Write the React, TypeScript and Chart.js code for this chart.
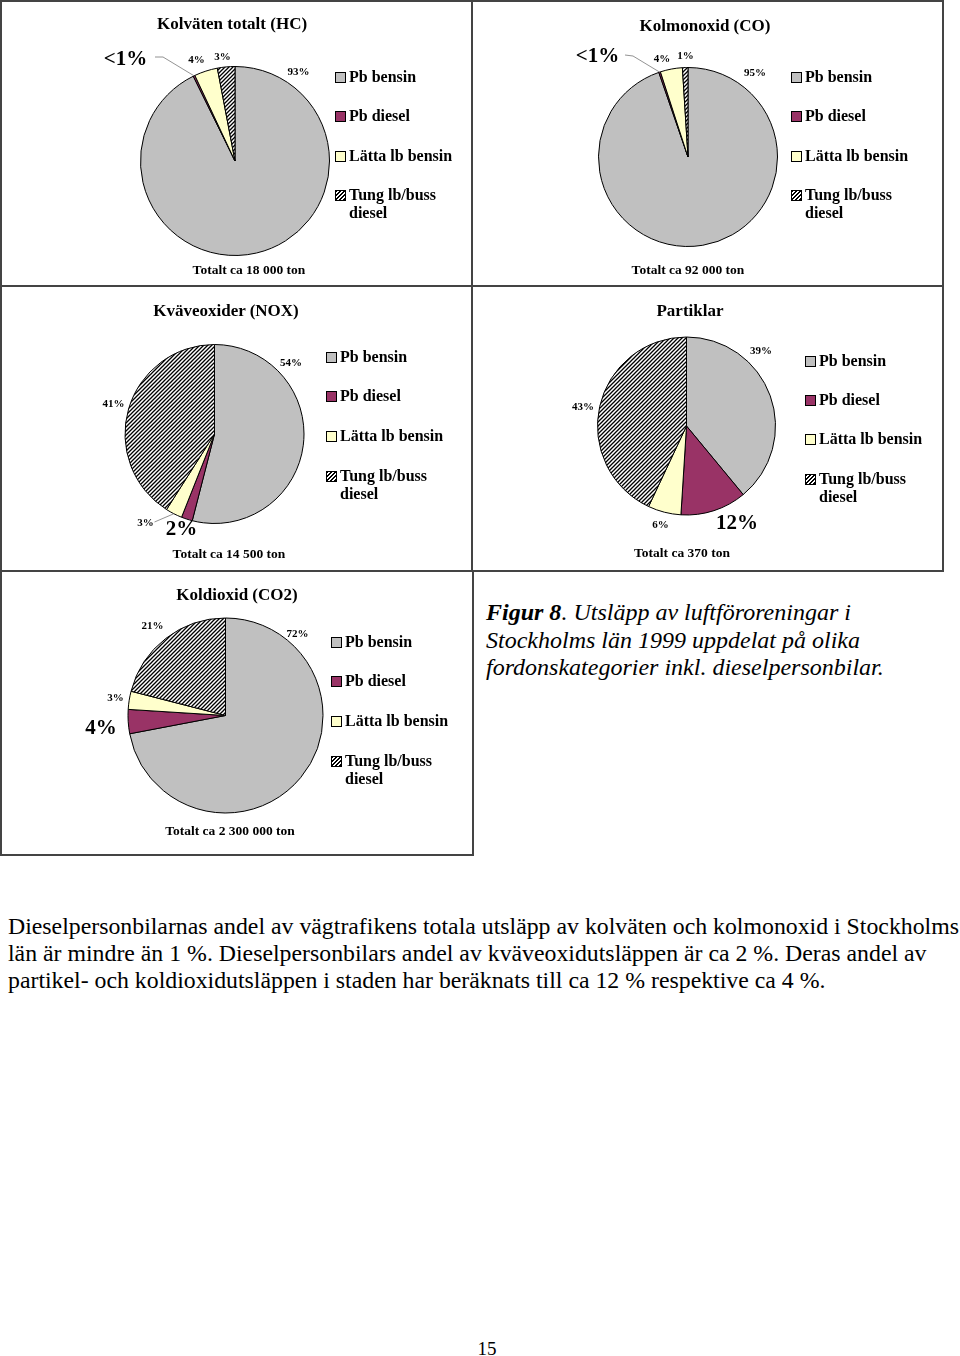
import React, { useEffect, useRef } from "react";
import { Chart, registerables } from "chart.js";
Chart.register(...registerables);

// ---------- data ----------
const categories = ["Pb bensin", "Pb diesel", "Lätta lb bensin", "Tung lb/buss diesel"];
const legendLines = [["Pb bensin"], ["Pb diesel"], ["Lätta lb bensin"], ["Tung lb/buss", "diesel"]];

const hcValues = [93, 0.3, 4, 3];
const coValues = [95, 0.3, 4, 1];
const noxValues = [54, 2, 3, 41];
const partValues = [39, 12, 6, 43];
const co2Values = [72, 4, 3, 21];

const chartTitles = ["Kolväten totalt (HC)", "Kolmonoxid (CO)", "Kväveoxider (NOX)", "Partiklar", "Koldioxid (CO2)"];
const totals = ["Totalt ca 18 000 ton", "Totalt ca 92 000 ton", "Totalt ca 14 500 ton", "Totalt ca 370 ton", "Totalt ca 2 300 000 ton"];

const captionLines = [
  "Utsläpp av luftföroreningar i",
  "Stockholms län 1999 uppdelat på olika",
  "fordonskategorier inkl. dieselpersonbilar.",
];
const bodyLines = [
  "Dieselpersonbilarnas andel av vägtrafikens totala utsläpp av kolväten och kolmonoxid i Stockholms",
  "län är mindre än 1 %. Dieselpersonbilars andel av kväveoxidutsläppen är ca 2 %. Deras andel av",
  "partikel- och koldioxidutsläppen i staden har beräknats till ca 12 % respektive ca 4 %.",
];
const pageNumber = "15";

// ---------- styles ----------
const FONT = '"Liberation Serif", "Times New Roman", serif';
const GRAY = "#c0c0c0";
const PLUM = "#993366";
const YELLOW = "#ffffcc";

type Leader = { slice: number; from: [number, number]; via?: [number, number] };
type Panel = {
  values: number[];
  box: [number, number, number, number];
  cx: number; cy: number; r: number;
  title: [number, number];
  total: [number, number];
  legendX: number;
  legendYs: number[];
  labelOffsets: [number, number][];
  leader?: Leader;
};

const panels: Panel[] = [
  {
    values: hcValues, box: [0, 0, 473, 287], cx: 235, cy: 161, r: 94.5,
    title: [232, 23], total: [249, 270], legendX: 335, legendYs: [77, 116, 156, 195],
    labelOffsets: [[63.5, -89], [-109.5, -101], [-38.5, -101], [-12.5, -104]],
    leader: { slice: 1, from: [-80, -104], via: [-72, -104] },
  },
  {
    values: coValues, box: [471, 0, 473, 287], cx: 688, cy: 157, r: 89.5,
    title: [705, 25], total: [688, 270], legendX: 791, legendYs: [77, 116, 156, 195],
    labelOffsets: [[67, -84], [-90.5, -100], [-26, -98], [-2.5, -101]],
    leader: { slice: 1, from: [-63, -102], via: [-55, -101] },
  },
  {
    values: noxValues, box: [0, 285, 473, 287], cx: 214.5, cy: 434, r: 89.5,
    title: [226, 310], total: [229, 554], legendX: 326, legendYs: [357, 396, 436, 476],
    labelOffsets: [[76.5, -71], [-33, 96], [-69, 89], [-101, -30]],
    leader: { slice: 2, from: [-60, 88] },
  },
  {
    values: partValues, box: [471, 285, 473, 287], cx: 686.5, cy: 426, r: 89,
    title: [690, 310], total: [682, 553], legendX: 805, legendYs: [361, 400, 439, 479],
    labelOffsets: [[74.5, -75], [50.5, 98], [-26, 99], [-103.5, -19]],
  },
  {
    values: co2Values, box: [0, 570, 474, 286], cx: 225.5, cy: 715.5, r: 97.5,
    title: [237, 594], total: [230, 831], legendX: 331, legendYs: [642, 681, 721, 761],
    labelOffsets: [[72, -81.5], [-124.5, 13.5], [-110, -17.5], [-73, -89.5]],
  },
];

function makeHatch(ctx: CanvasRenderingContext2D) {
  const c = document.createElement("canvas");
  c.width = 4;
  c.height = 4;
  const g = c.getContext("2d")!;
  g.fillStyle = "#fff";
  g.fillRect(0, 0, 4, 4);
  g.strokeStyle = "#000";
  g.lineWidth = 1.3;
  g.beginPath();
  g.moveTo(-1, 5); g.lineTo(5, -1);
  g.moveTo(-1, 1); g.lineTo(1, -1);
  g.moveTo(3, 5); g.lineTo(5, 3);
  g.stroke();
  return ctx.createPattern(c, "repeat")!;
}

function labelText(v: number) {
  return v < 1 ? "<1%" : `${v}%`;
}

function PieChart({ p }: { p: Panel }) {
  const ref = useRef<HTMLCanvasElement>(null);
  useEffect(() => {
    const canvas = ref.current!;
    const ctx = canvas.getContext("2d")!;
    const [bx, by, bw, bh] = p.box;
    const left = p.cx - bx - p.r;
    const top = p.cy - by - p.r;
    const right = bw - left - 2 * p.r;
    const bottom = bh - top - 2 * p.r;
    const labelsPlugin = {
      id: "pctLabels",
      afterDatasetsDraw(chart: any) {
        const meta = chart.getDatasetMeta(0);
        const c = chart.ctx as CanvasRenderingContext2D;
        c.save();
        if (p.leader) {
          const el: any = meta.data[p.leader.slice];
          const mid = (el.startAngle + el.endAngle) / 2;
          const ex = el.x + Math.cos(mid) * el.outerRadius;
          const ey = el.y + Math.sin(mid) * el.outerRadius;
          c.strokeStyle = "#777";
          c.lineWidth = 0.8;
          c.beginPath();
          c.moveTo(el.x + p.leader.from[0], el.y + p.leader.from[1]);
          if (p.leader.via) c.lineTo(el.x + p.leader.via[0], el.y + p.leader.via[1]);
          c.lineTo(ex, ey);
          c.stroke();
        }
        c.fillStyle = "#000";
        c.textAlign = "center";
        c.textBaseline = "middle";
        meta.data.forEach((el: any, i: number) => {
          const big = i === 1;
          c.font = big ? `bold 21px ${FONT}` : `bold 11px ${FONT}`;
          const [dx, dy] = p.labelOffsets[i];
          c.fillText(labelText(p.values[i]), el.x + dx, el.y + dy);
        });
        c.restore();
      },
    };
    const chart = new Chart(canvas, {
      type: "pie",
      data: {
        labels: categories,
        datasets: [
          {
            data: p.values,
            backgroundColor: [GRAY, PLUM, YELLOW, makeHatch(ctx)],
            borderColor: "#000",
            borderWidth: 1,
          },
        ],
      },
      options: {
        responsive: false,
        animation: false,
        radius: p.r,
        layout: { padding: { left, top, right, bottom } },
        plugins: { legend: { display: false }, tooltip: { enabled: false }, title: { display: false } },
        events: [],
      } as any,
      plugins: [labelsPlugin],
    });
    return () => chart.destroy();
  }, [p]);
  const [bx, by, bw, bh] = p.box;
  return (
    <canvas
      ref={ref}
      width={bw}
      height={bh}
      style={{ position: "absolute", left: bx, top: by, width: bw, height: bh }}
    />
  );
}

const swatch: Record<number, React.CSSProperties> = {
  0: { background: GRAY },
  1: { background: PLUM },
  2: { background: YELLOW },
  3: { background: "repeating-linear-gradient(135deg, #000 0 1px, #fff 1px 2.8px)" },
};

function Txt({ x, y, children, style }: { x: number; y: number; children: React.ReactNode; style?: React.CSSProperties }) {
  return (
    <div
      style={{
        position: "absolute",
        left: x,
        top: y,
        transform: "translate(-50%, -50%)",
        whiteSpace: "nowrap",
        lineHeight: 1,
        ...style,
      }}
    >
      {children}
    </div>
  );
}

function PanelView({ p, idx }: { p: Panel; idx: number }) {
  const [bx, by, bw, bh] = p.box;
  return (
    <>
      <div
        style={{
          position: "absolute",
          left: bx,
          top: by,
          width: bw,
          height: bh,
          boxSizing: "border-box",
          border: "2px solid #444",
        }}
      />
      <PieChart p={p} />
      <Txt x={p.title[0]} y={p.title[1]} style={{ fontSize: 17, fontWeight: "bold" }}>
        {chartTitles[idx]}
      </Txt>
      <Txt x={p.total[0]} y={p.total[1]} style={{ fontSize: 13.5, fontWeight: "bold" }}>
        {totals[idx]}
      </Txt>
      {legendLines.map((lines, i) => (
        <div
          key={i}
          style={{
            position: "absolute",
            left: p.legendX,
            top: p.legendYs[i] - 9,
            display: "flex",
            alignItems: "flex-start",
            fontSize: 16,
            fontWeight: "bold",
            lineHeight: "18px",
            whiteSpace: "nowrap",
          }}
        >
          <div
            style={{
              width: 11,
              height: 11,
              boxSizing: "border-box",
              border: "1px solid #000",
              marginTop: 3.5,
              marginRight: 3,
              ...swatch[i],
            }}
          />
          <div>
            {lines.map((l, j) => (
              <div key={j}>{l}</div>
            ))}
          </div>
        </div>
      ))}
    </>
  );
}

export default function App() {
  return (
    <div
      style={{
        position: "absolute",
        left: 0,
        top: 0,
        width: 960,
        height: 1356,
        background: "#fff",
        fontFamily: FONT,
        color: "#000",
        overflow: "hidden",
      }}
    >
      {panels.map((p, i) => (
        <PanelView key={i} p={p} idx={i} />
      ))}
      <div
        style={{
          position: "absolute",
          left: 486,
          top: 599,
          fontSize: 24,
          fontStyle: "italic",
          lineHeight: "27.5px",
          whiteSpace: "nowrap",
        }}
      >
        <div>
          <b>Figur 8</b>. {captionLines[0]}
        </div>
        <div>{captionLines[1]}</div>
        <div>{captionLines[2]}</div>
      </div>
      <div
        style={{
          position: "absolute",
          left: 8,
          top: 912.5,
          fontSize: 23.8,
          lineHeight: "27px",
          whiteSpace: "nowrap",
        }}
      >
        {bodyLines.map((l, i) => (
          <div key={i}>{l}</div>
        ))}
      </div>
      <Txt x={487} y={1348} style={{ fontSize: 19 }}>
        {pageNumber}
      </Txt>
    </div>
  );
}
